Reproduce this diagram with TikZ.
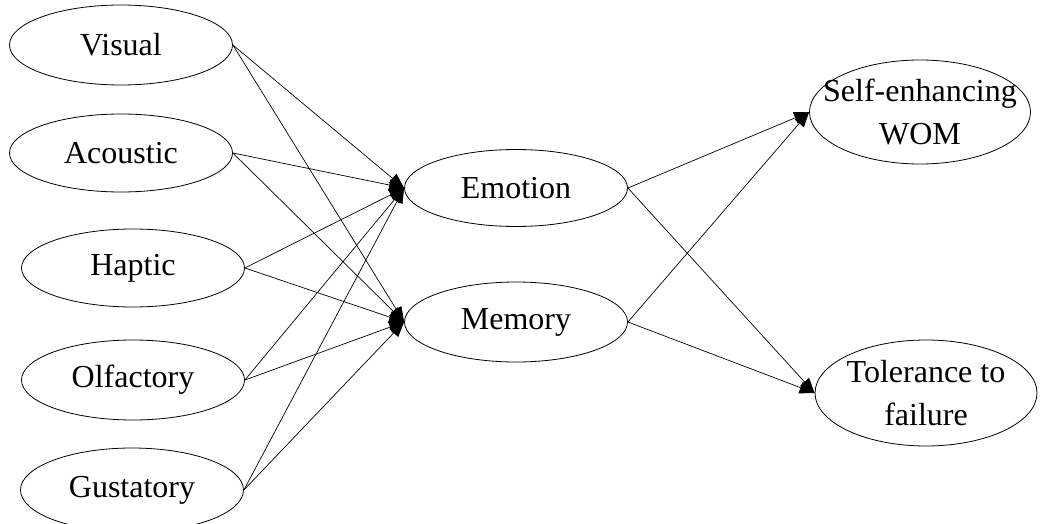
\documentclass[tikz,border=0pt]{standalone}
\usepackage{fontspec}
\setmainfont{Liberation Serif}
\usetikzlibrary{arrows.meta,positioning,shapes.geometric}

\begin{document}
\begin{tikzpicture}[x=0.5pt,y=-0.5pt,
  factor/.style={draw,ellipse,line width=0.4pt,inner sep=0pt,minimum width=111.5pt,minimum height=40pt,
    align=center,font=\fontsize{16}{21.5}\selectfont},
  tightfactor/.style={factor,inner xsep=-14pt,inner ysep=-4pt},
  pathArrow/.style={-{Triangle[length=7.5pt,width=6pt]},line width=0.35pt}
]
  \useasboundingbox (0,0) rectangle (1044,524);
  % sensory inputs
  \node[factor] (visual) at (121,45) {Visual};
  \node[factor,minimum height=39pt] (acoustic) at (121,153) {Acoustic};
  \node[factor,minimum height=39pt] (haptic) at (133,268) {Haptic};
  \node[factor] (olfactory) at (133,380) {Olfactory};
  \node[factor,minimum height=42pt] (gustatory) at (132,490) {Gustatory};
  % mediators
  \node[factor,minimum height=38.5pt] (emotion) at (516,188) {Emotion};
  \node[factor] (memory) at (516,322) {Memory};
  % outcomes
  \node[tightfactor,minimum width=110.5pt,minimum height=52pt] (wom) at (920,112) {Self-enhancing\\WOM};
  \node[tightfactor,minimum width=111pt,minimum height=53pt] (tolerance) at (926,393) {Tolerance to\\failure};
  % Arrows
  \foreach \src in {visual,acoustic,haptic,olfactory,gustatory}{
    \draw[pathArrow] (\src.east) -- (emotion.west);
    \draw[pathArrow] (\src.east) -- (memory.west);
  }
  \foreach \mid in {emotion,memory}{
    \draw[pathArrow] (\mid.east) -- (wom.west);
    \draw[pathArrow] (\mid.east) -- (tolerance.west);
  }
\end{tikzpicture}
\end{document}
